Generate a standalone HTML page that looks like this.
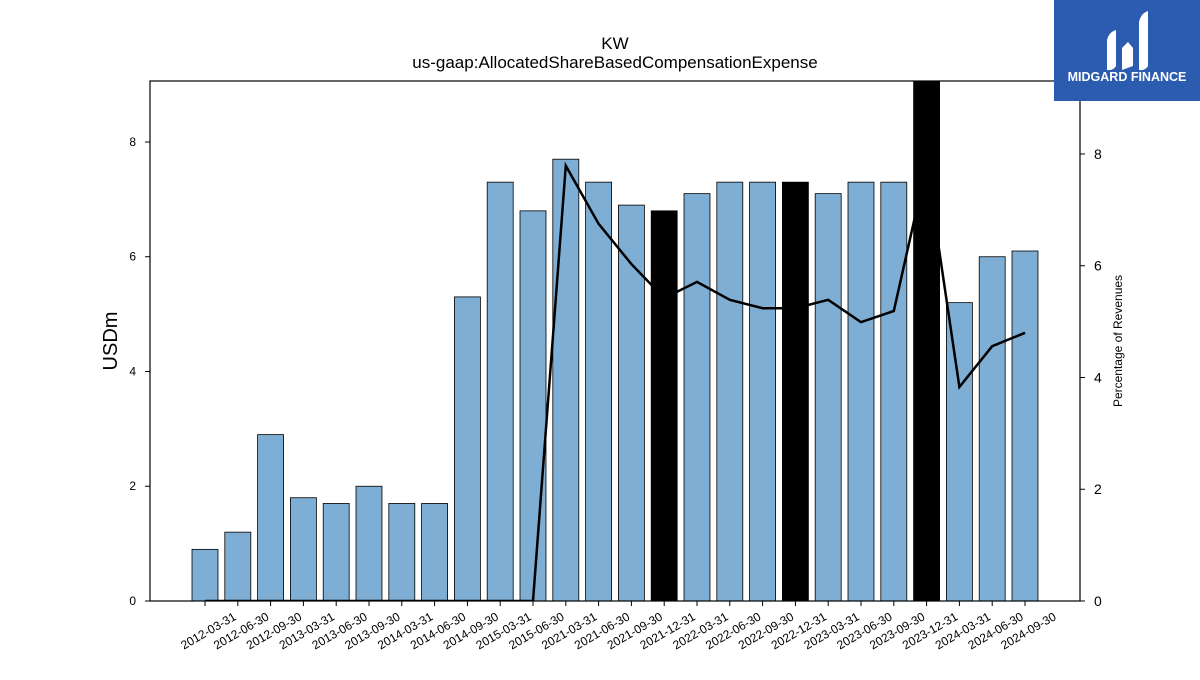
<!DOCTYPE html>
<html><head><meta charset="utf-8"><style>
body{margin:0;background:#fff;width:1200px;height:675px;overflow:hidden;font-family:"Liberation Sans","DejaVu Sans",sans-serif}
</style></head><body>
<svg id="c" width="1200" height="675" xmlns="http://www.w3.org/2000/svg">
<text x="615" y="49" font-size="17" text-anchor="middle">KW</text>
<text x="615" y="68" font-size="17" text-anchor="middle">us-gaap:AllocatedShareBasedCompensationExpense</text>
<g id="bars"></g>
<g id="ax"></g>
<text transform="translate(117,341) rotate(-90)" font-size="20" text-anchor="middle">USDm</text>
<text transform="translate(1122,341) rotate(-90)" font-size="12" text-anchor="middle">Percentage of Revenues</text>
<g>
<rect x="1054" y="0" width="146" height="101" fill="#2b5cb0"/>
<path d="M1107 70 L1107 40 Q1109 32 1116 30 L1116 66 Q1113 71 1107 70Z" fill="#fff"/>
<path d="M1122 70 L1122 48 L1128 42 L1133 48 L1133 66Z" fill="#fff"/>
<path d="M1139 70 L1139 22 Q1141 13 1148 11 L1148 66 Q1145 71 1139 70Z" fill="#fff"/>
<text x="1127" y="81" font-size="12.5" font-weight="bold" fill="#fff" text-anchor="middle">MIDGARD FINANCE</text>
</g>
</svg>
<script>
const categories=["2012-03-31","2012-06-30","2012-09-30","2013-03-31","2013-06-30","2013-09-30","2014-03-31","2014-06-30","2014-09-30","2015-03-31","2015-06-30","2021-03-31","2021-06-30","2021-09-30","2021-12-31","2022-03-31","2022-06-30","2022-09-30","2022-12-31","2023-03-31","2023-06-30","2023-09-30","2023-12-31","2024-03-31","2024-06-30","2024-09-30"];
const barValues=[0.9,1.2,2.9,1.8,1.7,2.0,1.7,1.7,5.3,7.3,6.8,7.7,7.3,6.9,6.8,7.1,7.3,7.3,7.3,7.1,7.3,7.3,9.5,5.2,6.0,6.1];
const highlight=[0,0,0,0,0,0,0,0,0,0,0,0,0,0,1,0,0,0,1,0,0,0,1,0,0,0];
const pctValues=[0,0,0,0,0,0,0,0,0,0,0,7.79,6.75,6.03,5.42,5.71,5.39,5.24,5.24,5.39,4.99,5.19,7.8,3.83,4.56,4.80];
const leftTicks=[0,2,4,6,8];
const rightTicks=[0,2,4,6,8];
const NS="http://www.w3.org/2000/svg";
const L=150,R=1080,T=81,B=601,lMax=9.063,rMax=9.306;
const x=i=>205+i*(1025-205)/(categories.length-1);
const yl=v=>B-(B-T)*v/lMax;
const yr=v=>B-(B-T)*v/rMax;
function mk(t,a,p){const e=document.createElementNS(NS,t);for(const k in a)e.setAttribute(k,a[k]);p.appendChild(e);return e;}
const bars=document.getElementById('bars'),ax=document.getElementById('ax');
mk('clipPath',{id:'cp'},bars).appendChild(Object.assign(document.createElementNS(NS,'rect'),{})).setAttribute('x',L);
const cr=bars.querySelector('#cp rect');cr.setAttribute('y',T);cr.setAttribute('width',R-L);cr.setAttribute('height',B-T);
const g=mk('g',{'clip-path':'url(#cp)'},bars);
barValues.forEach((v,i)=>{
 const r=mk('rect',{x:x(i)-13,y:yl(v),width:26,height:B-yl(v),fill:highlight[i]?'#000':'#7eaed3',stroke:'#000','stroke-width':0.8},g);
 
 
});
const pl=mk('polyline',{points:pctValues.map((v,i)=>x(i)+','+yr(v)).join(' '),fill:'none',stroke:'#000','stroke-width':2.5},g);


mk('rect',{x:L,y:T,width:R-L,height:B-T,fill:'none',stroke:'#000','stroke-width':1.2},ax);
leftTicks.forEach(t=>{
 mk('line',{x1:L-5,x2:L,y1:yl(t),y2:yl(t),stroke:'#000'},ax);
 const tx=mk('text',{x:L-14,y:yl(t)+4,'font-size':12,'text-anchor':'end'},ax);tx.textContent=t;
 
 
});
rightTicks.forEach(t=>{
 mk('line',{x1:R,x2:R+5,y1:yr(t),y2:yr(t),stroke:'#000'},ax);
 const tx=mk('text',{x:R+14,y:yr(t)+5,'font-size':14},ax);tx.textContent=t;
 
 
});
categories.forEach((c,i)=>{
 mk('line',{x1:x(i),x2:x(i),y1:B,y2:B+5,stroke:'#000'},ax);
 const tx=mk('text',{transform:`translate(${x(i)+32},${B+18}) rotate(-30)`,'font-size':12,'text-anchor':'end'},ax);tx.textContent=c;
 
 
});
</script>
</body></html>
